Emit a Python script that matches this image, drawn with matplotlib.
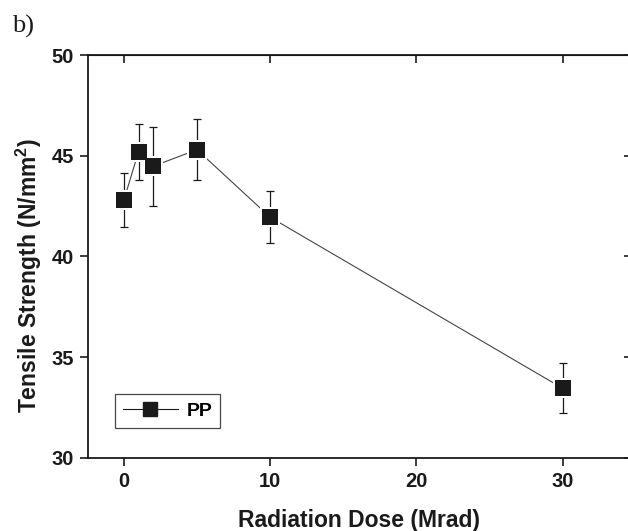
import matplotlib
matplotlib.use("Agg")
import matplotlib.pyplot as plt

# Data
dose = [0, 1, 2, 5, 10, 30]
strength = [42.8, 45.2, 44.48, 45.3, 41.95, 33.46]
err = [1.35, 1.4, 1.97, 1.5, 1.3, 1.25]
series_label = "PP"
xticks = [0, 10, 20, 30]
yticks = [30, 35, 40, 45, 50]

plt.rcParams['font.family'] = ['Liberation Sans', 'DejaVu Sans']
plt.rcParams['mathtext.fontset'] = 'custom'
plt.rcParams['mathtext.bf'] = 'Liberation Sans:bold'
plt.rcParams['mathtext.rm'] = 'Liberation Sans:bold'

fig = plt.figure(figsize=(6.28, 5.31), dpi=100)
ax = fig.add_axes([0.140, 0.1375, 0.863, 0.7589])

ink = '#1a1a1a'

# connecting line, drawn below the markers
ax.plot(dose, strength, color='#444444', lw=0.8, zorder=1)
ax.errorbar(dose, strength, yerr=err, fmt='none', ecolor=ink,
            elinewidth=0.9, capsize=3.0, capthick=0.9, zorder=2)
# white square behind each marker leaves a gap in the line (Origin look)
ax.plot(dose, strength, ls='none', marker='s', ms=14.5, color='white',
        markeredgewidth=0, zorder=3)
ax.plot(dose, strength, ls='none', marker='s', ms=11, color=ink,
        markeredgewidth=0, zorder=4)

# legend handle
ax.plot([], [], color=ink, lw=0.8, marker='s', ms=9.5, label=series_label)
leg = ax.legend(loc='lower left', bbox_to_anchor=(0.050, 0.074),
                borderaxespad=0, frameon=True, fancybox=False,
                handlelength=2.8, borderpad=0.42, handletextpad=0.45,
                prop={'weight': 'bold', 'size': 14})
leg.get_frame().set_edgecolor(ink)
leg.get_frame().set_linewidth(0.9)

ax.set_xlim(-2.46, 34.6)
ax.set_ylim(30, 50)
ax.set_xticks(xticks)
ax.set_yticks(yticks)
ax.tick_params(direction='out', length=6, width=1.2, labelsize=14.5,
               colors=ink, pad=4)
for lab in ax.get_xticklabels() + ax.get_yticklabels():
    lab.set_fontweight('bold')
for s in ax.spines.values():
    s.set_linewidth(1.3)
    s.set_color(ink)

# mirrored inward ticks on top and right
top = ax.secondary_xaxis('top')
top.set_xticks(xticks)
top.tick_params(direction='in', length=6, width=1.2, labeltop=False, colors=ink)
right = ax.secondary_yaxis('right')
right.set_yticks(yticks)
right.tick_params(direction='in', length=4, width=1.2, labelright=False, colors=ink)

ax.set_xlabel('Radiation Dose (Mrad)', fontsize=16.5, fontweight='bold',
              color=ink, labelpad=13)
ax.set_ylabel(r'Tensile Strength (N/mm$^{\mathbf{2}}$)', fontsize=16.5,
              fontweight='bold', color=ink)
ax.yaxis.set_label_coords(-0.081, 0.454)

fig.text(0.019, 0.938, 'b)', family='Liberation Serif', fontsize=19, color=ink)

fig.savefig('out.png', dpi=100)
